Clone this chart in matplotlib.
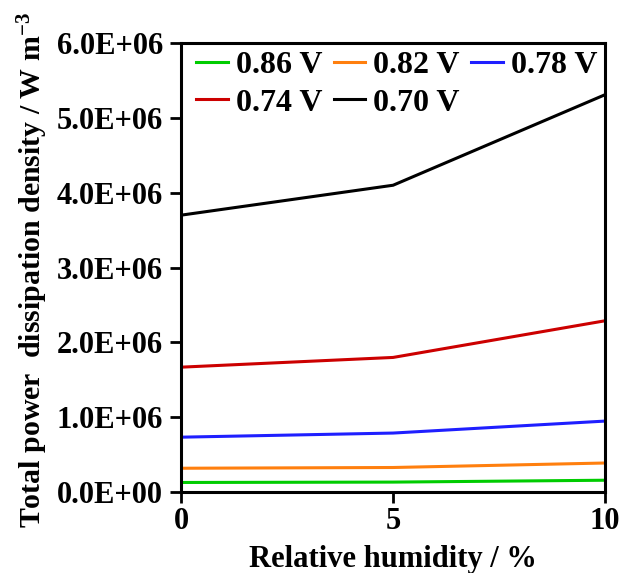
import matplotlib
matplotlib.use("Agg")
import matplotlib.pyplot as plt

plt.rcParams['font.family'] = ['Liberation Serif', 'DejaVu Serif']
plt.rcParams['font.weight'] = 'bold'
plt.rcParams['mathtext.fontset'] = 'custom'
plt.rcParams['mathtext.rm'] = 'Liberation Serif:bold'
plt.rcParams['mathtext.bf'] = 'Liberation Serif:bold'
plt.rcParams['mathtext.default'] = 'bf'

# Relative humidity (%) and total power dissipation density (W m^-3)
humidity = [0, 5, 10]
p_086 = [0.13e6, 0.135e6, 0.16e6]
p_082 = [0.32e6, 0.33e6, 0.39e6]
p_078 = [0.735e6, 0.79e6, 0.95e6]
p_074 = [1.67e6, 1.80e6, 2.29e6]
p_070 = [3.70e6, 4.10e6, 5.31e6]

labels = ['0.86 V', '0.82 V', '0.78 V', '0.74 V', '0.70 V']
colors = ['#00cc00', '#ff7f0e', '#1f1fff', '#cc0000', '#000000']
series = [p_086, p_082, p_078, p_074, p_070]

x_ticks = [0, 5, 10]
y_ticks = [0, 1e6, 2e6, 3e6, 4e6, 5e6, 6e6]
y_tick_labels = ['0.0E+00', '1.0E+06', '2.0E+06', '3.0E+06', '4.0E+06', '5.0E+06', '6.0E+06']

fig = plt.figure(figsize=(6.22, 5.73), dpi=100)
ax = fig.add_axes([0.291, 0.141, 0.682, 0.784])

lines = []
for vals, lab, col in zip(series, labels, colors):
    ln, = ax.plot(humidity, vals, color=col, lw=2.2, label=lab, solid_joinstyle='round')
    lines.append(ln)

ax.set_xlim(0, 10)
ax.set_ylim(0, 6e6)
ax.set_xticks(x_ticks)
ax.set_xticklabels([str(t) for t in x_ticks])
ax.set_yticks(y_ticks)
ax.set_yticklabels(y_tick_labels)
ax.tick_params(axis='both', direction='out', length=8, width=2, labelsize=22)
ax.tick_params(axis='y', pad=5)
ax.tick_params(axis='x', pad=3)

for s in ax.spines.values():
    s.set_linewidth(2.2)

ax.set_xlabel('Relative humidity / %', fontsize=22, fontweight='bold')
ax.set_ylabel('Total power  dissipation density / W m$^{-3}$', fontsize=21.5, fontweight='bold')
ax.yaxis.set_label_coords(-0.308, 0.495)
ax.xaxis.set_label_coords(0.5, -0.118)

# legend entries filled row by row (3 per row)
order = [0, 3, 1, 4, 2]
ax.legend([lines[i] for i in order], [labels[i] for i in order],
          ncol=3, loc='upper left', bbox_to_anchor=(-0.01, 1.025), frameon=False,
          fontsize=23, handlelength=1.0, handletextpad=0.25, columnspacing=0.35,
          labelspacing=0.25, borderaxespad=0.2)

fig.savefig('out.png', dpi=100)
